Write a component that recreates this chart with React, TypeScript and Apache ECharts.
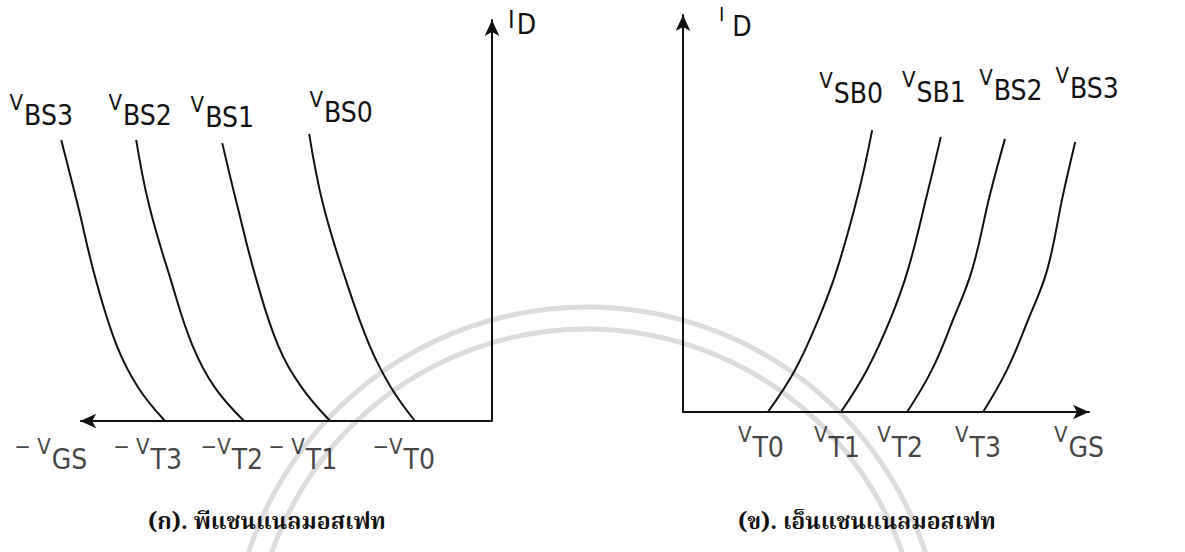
import React, { useEffect, useRef } from "react";
import * as echarts from "echarts";

// ---- (ก) p-channel MOSFET: -V_GS (left) vs I_D ----
const pThreshold = [-1.87, -3.93, -6.02, -7.94]; // -V_T0 .. -V_T3
const pThresholdSub = ["T0", "T1", "T2", "T3"];
const pCurveNames = ["BS0", "BS1", "BS2", "BS3"];
const pCurveBS0 = [[-1.87, 0], [-2.46, 0.85], [-2.98, 1.9], [-3.55, 3.52], [-4.1, 5.39], [-4.44, 7.16]];
const pCurveBS1 = [[-3.93, 0], [-4.63, 0.85], [-5.2, 1.9], [-5.72, 3.52], [-6.19, 5.39], [-6.55, 6.93]];
const pCurveBS2 = [[-6.02, 0], [-6.74, 0.85], [-7.28, 1.9], [-7.8, 3.52], [-8.33, 5.39], [-8.64, 7.01]];
const pCurveBS3 = [[-7.94, 0], [-8.6, 0.85], [-9.12, 1.9], [-9.62, 3.52], [-10.06, 5.39], [-10.46, 7.01]];

// ---- (ข) n-channel MOSFET: V_GS vs I_D ----
const nThreshold = [2.09, 3.89, 5.52, 7.39]; // V_T0 .. V_T3
const nThresholdSub = ["T0", "T1", "T2", "T3"];
const nCurveNames = ["SB0", "SB1", "BS2", "BS3"];
const nCurveSB0 = [[2.09, 0], [2.76, 1.06], [3.33, 2.32], [3.79, 3.58], [4.31, 5.47], [4.66, 7.1]];
const nCurveSB1 = [[3.89, 0], [4.53, 1.06], [5.1, 2.32], [5.54, 3.58], [6.01, 5.47], [6.35, 6.93]];
const nCurveBS2 = [[5.52, 0], [6.13, 1.06], [6.65, 2.32], [7.12, 3.58], [7.56, 5.47], [7.93, 6.88]];
const nCurveBS3 = [[7.39, 0], [7.98, 1.06], [8.5, 2.32], [8.97, 3.58], [9.36, 5.47], [9.66, 6.8]];

const captionP = "(ก). พีแชนแนลมอสเฟท";
const captionN = "(ข). เอ็นแชนแนลมอสเฟท";

const INK = "#111111";
const FONT = "'DejaVu Sans Condensed', 'Liberation Sans Narrow', 'DejaVu Sans', sans-serif";
const THAI_FONT = "'Noto Serif Thai', 'Noto Sans Thai', 'Tlwg Typo', Norasi, Loma, Garuda, serif";

// V with a dropped subscript, lettering-template style
const rich = {
  v: { fontFamily: FONT, fontSize: 22, color: INK, padding: [0, 1, 16, 0], lineHeight: 24, verticalAlign: "bottom" as const },
  s: { fontFamily: FONT, fontSize: 28, color: INK, lineHeight: 30, verticalAlign: "bottom" as const },
};

// label placement (pixels) for the curve tags and the axis tags
const pLabelOffsets = [[32, -7], [0, -12], [4, -10], [-20, -10]];
const nLabelOffsets = [[-21, -23], [-7, -30], [6, -34], [12, -40]];
const pTickDx = [20, 7, 19, 17];
const nTickDx = [-7, -4, -7, -5];

function curveSeries(data: number[][], name: string, axisIndex: number, offset: number[]) {
  return {
    type: "line",
    name: "V" + name,
    xAxisIndex: axisIndex,
    yAxisIndex: axisIndex,
    data,
    smooth: 0.4,
    symbol: "none",
    clip: false,
    lineStyle: { color: INK, width: 2 },
    endLabel: {
      show: true,
      distance: 0,
      align: "center",
      verticalAlign: "bottom",
      offset,
      formatter: () => `{v|V}{s|${name}}`,
      rich,
    },
    silent: true,
  };
}

export default function App() {
  const ref = useRef<HTMLDivElement>(null);

  useEffect(() => {
    document.body.style.margin = "0";
    if (!ref.current) return;
    const chart = echarts.init(ref.current, null, { renderer: "svg" });

    const pCurves = [pCurveBS0, pCurveBS1, pCurveBS2, pCurveBS3];
    const nCurves = [nCurveSB0, nCurveSB1, nCurveBS2, nCurveBS3];

    const axisLine = (symbol: string[]) => ({
      show: true,
      onZero: false,
      symbol,
      symbolSize: [11, 16],
      lineStyle: { color: INK, width: 2 },
    });
    const hidden = {
      axisTick: { show: false },
      axisLabel: { show: false },
      splitLine: { show: false },
    };

    const pTicks = [
      ...pThreshold.map((x, i) => ({
        value: [x, 0],
        label: `{v|${i === 0 || i === 2 ? "−V" : "− V"}}{s|${pThresholdSub[i]}}`,
        dx: pTickDx[i],
      })),
      { value: [-10, 0], label: "{v|− V}{s|GS}", dx: 7 },
    ];
    const nTicks = [
      ...nThreshold.map((x, i) => ({ value: [x, 0], label: `{v|V}{s|${nThresholdSub[i]}}`, dx: nTickDx[i] })),
      { value: [10, 0], label: "{v|V}{s|GS}", dx: -10 },
    ];

    chart.setOption({
      animation: false,
      backgroundColor: "#ffffff",
      grid: [
        { left: 39, top: 20, width: 453, height: 401 },
        { left: 683, top: 15, width: 406, height: 397 },
      ],
      xAxis: [
        { type: "value", gridIndex: 0, min: -11, max: 0, axisLine: { show: false }, ...hidden },
        { type: "value", gridIndex: 1, min: 0, max: 10, axisLine: axisLine(["none", "arrow"]), ...hidden },
      ],
      yAxis: [
        {
          type: "value", gridIndex: 0, min: 0, max: 10, position: "right",
          axisLine: axisLine(["none", "arrow"]), ...hidden,
          name: "{i|I}{s|D}", nameLocation: "end", nameGap: 12,
          nameTextStyle: {
            align: "left", verticalAlign: "top",
            rich: {
              i: { fontFamily: FONT, fontSize: 25, lineHeight: 26, color: INK, padding: [0, 2, 6, 16], verticalAlign: "bottom" },
              s: rich.s,
            },
          },
        },
        {
          type: "value", gridIndex: 1, min: 0, max: 10,
          axisLine: axisLine(["none", "arrow"]), ...hidden,
          name: "{i|I}{s|D}", nameLocation: "end", nameGap: 5,
          nameTextStyle: {
            align: "left", verticalAlign: "top",
            rich: {
              i: { fontFamily: FONT, fontSize: 20, lineHeight: 22, color: INK, padding: [0, 8, 16, 36], verticalAlign: "bottom" },
              s: rich.s,
            },
          },
        },
      ],
      title: [
        {
          text: captionP, left: 143, top: 506,
          textStyle: { fontFamily: THAI_FONT, fontSize: 23, fontWeight: "bold", color: INK },
        },
        {
          text: captionN, left: 733, top: 506,
          textStyle: { fontFamily: THAI_FONT, fontSize: 23, fontWeight: "bold", color: INK },
        },
      ],
      graphic: [
        // faint circular seal in the background
        {
          type: "arc", z: -10, silent: true,
          shape: { cx: 587, cy: 663, r: 356, startAngle: Math.PI * 1.05, endAngle: Math.PI * 1.95 },
          style: { stroke: "#dcdcdc", lineWidth: 5, fill: "none" },
        },
        {
          type: "arc", z: -10, silent: true,
          shape: { cx: 587, cy: 663, r: 334, startAngle: Math.PI * 1.05, endAngle: Math.PI * 1.95 },
          style: { stroke: "#dcdcdc", lineWidth: 5, fill: "none" },
        },
      ],
      series: [
        ...pCurves.map((d, i) => curveSeries(d, pCurveNames[i], 0, pLabelOffsets[i])),
        ...nCurves.map((d, i) => curveSeries(d, nCurveNames[i], 1, nLabelOffsets[i])),
        {
          type: "scatter", xAxisIndex: 0, yAxisIndex: 0, silent: true,
          symbolSize: 1, itemStyle: { color: "transparent" },
          data: pTicks.map((t) => ({ value: t.value, label: { formatter: t.label, offset: [t.dx, 22] } })),
          label: { show: true, position: "bottom", distance: 0, align: "right", rich },
          // the -V_GS axis, drawn from its arrow at the far left to the origin
          markLine: {
            silent: true,
            symbol: ["arrow", "none"],
            symbolSize: [11, 16],
            label: { show: false },
            emphasis: { disabled: true },
            lineStyle: { color: INK, width: 2, type: "solid" },
            data: [[{ coord: [-10, 0] }, { coord: [0, 0] }]],
          },
        },
        {
          type: "scatter", xAxisIndex: 1, yAxisIndex: 1, silent: true,
          symbolSize: 1, itemStyle: { color: "transparent" },
          data: nTicks.map((t) => ({ value: t.value, label: { formatter: t.label, offset: [t.dx, 19] } })),
          label: { show: true, position: "bottom", distance: 0, align: "center", rich },
        },
      ],
    });

    return () => chart.dispose();
  }, []);

  return <div ref={ref} style={{ width: 1185, height: 552 }} />;
}
